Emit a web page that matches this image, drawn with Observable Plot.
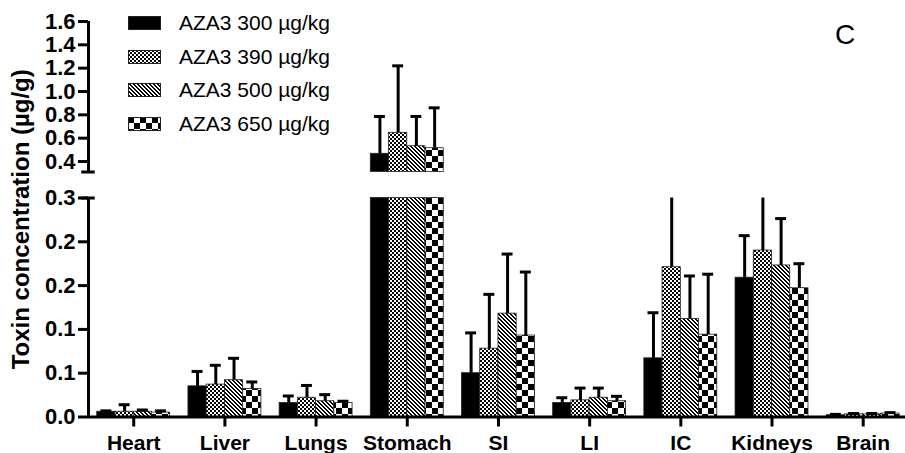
<!DOCTYPE html>
<html><head><meta charset="utf-8">
<script src="https://cdn.jsdelivr.net/npm/d3@7"></script>
<script src="https://cdn.jsdelivr.net/npm/@observablehq/plot@0.6"></script>
<style>
body{margin:0;background:#fff;}
#wrap{position:relative;width:905px;height:453px;font-family:"Liberation Sans",Arial,sans-serif;color:#000;}
#legend{position:absolute;left:128px;top:13px;}
.row{display:flex;align-items:center;height:20px;margin-bottom:13.5px;font-size:21px;white-space:nowrap;}
.row svg{margin-right:18px;display:block}
#panel{position:absolute;left:835px;top:21px;font-size:28px;line-height:1;}
</style></head>
<body>
<svg width="0" height="0" style="position:absolute"><defs>
<pattern id="p390" patternUnits="userSpaceOnUse" width="4" height="4"><rect width="4" height="4" fill="#fff"/><rect width="2" height="2" fill="#000"/><rect x="2" y="2" width="2" height="2" fill="#000"/></pattern>
<pattern id="p500" patternUnits="userSpaceOnUse" width="4" height="4"><rect width="4" height="4" fill="#fff"/><path d="M0,0h2v1h-2z M1,1h2v1h-2z M2,2h2v1h-2z M3,3h1v1h-1z M0,3h1v1h-1z" fill="#000"/></pattern>
<pattern id="p650" patternUnits="userSpaceOnUse" width="12" height="12"><rect width="12" height="12" fill="#fff"/><rect width="6" height="6" fill="#000"/><rect x="6" y="6" width="6" height="6" fill="#000"/></pattern>
</defs></svg>
<div id="wrap"><div id="chart"></div><div id="legend"></div><div id="panel">C</div></div>
<script>
const organs = ["Heart","Liver","Lungs","Stomach","SI","LI","IC","Kidneys","Brain"];
const series = ["AZA3 300 µg/kg","AZA3 390 µg/kg","AZA3 500 µg/kg","AZA3 650 µg/kg"];

const mean300 = [0.006, 0.035, 0.016, 0.466, 0.050, 0.016, 0.067, 0.159, 0.002];
const sd300   = [0.001, 0.017, 0.008, 0.320, 0.046, 0.006, 0.052, 0.048, 0.001];
const mean390 = [0.006, 0.037, 0.022, 0.646, 0.078, 0.019, 0.171, 0.190, 0.003];
const sd390   = [0.008, 0.022, 0.014, 0.574, 0.062, 0.014, 0.119, 0.090, 0.001];
const mean500 = [0.006, 0.042, 0.018, 0.531, 0.118, 0.022, 0.112, 0.173, 0.003];
const sd500   = [0.002, 0.025, 0.0075, 0.255, 0.068, 0.011, 0.049, 0.0535, 0.001];
const mean650 = [0.005, 0.032, 0.016, 0.514, 0.093, 0.018, 0.094, 0.147, 0.004];
const sd650   = [0.002, 0.008, 0.002, 0.346, 0.0725, 0.0056, 0.069, 0.028, 0.001];

const yTicks = [0, 0.05, 0.1, 0.15, 0.2, 0.25, 0.4, 0.6, 0.8, 1.0, 1.2, 1.4, 1.6];
const yTickLabels = ["0.0","0.1","0.1","0.2","0.2","0.3","0.4","0.6","0.8","1.0","1.2","1.4","1.6"];
const yLabel = "Toxin concentration (µg/g)";

// broken axis segments
const lowerTop = 0.25, upperBottom = 0.31, upperTop = 1.6;

const fills = ["#000", "url(#p390)", "url(#p500)", "url(#p650)"];
const means = [mean300, mean390, mean500, mean650];
const sds = [sd300, sd390, sd500, sd650];
const slots = series.length + 1;

const rows = [];
organs.forEach((o, i) => series.forEach((s, k) => {
  const x1 = i * slots + k;
  rows.push({organ: o, series: s, k, x1, x2: x1 + 1, xc: x1 + 0.5, mean: means[k][i], top: means[k][i] + sds[k][i]});
}));
const lower = rows.map(d => ({...d, y1: 0, y2: Math.min(d.mean, lowerTop)}));
const upper = rows.filter(d => d.mean > upperBottom).map(d => ({...d, y1: upperBottom, y2: d.mean}));
const errSegs = [];
rows.forEach(d => {
  if (d.mean < lowerTop) errSegs.push({...d, y1: d.mean, y2: Math.min(d.top, lowerTop)});
  if (d.top > upperBottom) errSegs.push({...d, y1: Math.max(d.mean, upperBottom), y2: d.top});
});
const caps = rows.filter(d => d.top <= lowerTop || d.top >= upperBottom);
const xMin = -0.48, xMax = 44.32;
const capHalf = 0.3;

const marks = [];
series.forEach((s, k) => {
  marks.push(Plot.rect(lower.filter(d => d.k === k), {x1: "x1", x2: "x2", y1: "y1", y2: "y2", fill: fills[k], stroke: "#222", strokeWidth: 0.8}));
  marks.push(Plot.rect(upper.filter(d => d.k === k), {x1: "x1", x2: "x2", y1: "y1", y2: "y2", fill: fills[k], stroke: "#222", strokeWidth: 0.8}));
});
marks.push(
  Plot.ruleX(errSegs, {x: "xc", y1: "y1", y2: "y2", strokeWidth: 3}),
  Plot.ruleY(caps, {y: "top", x1: d => d.xc - capHalf, x2: d => d.xc + capHalf, strokeWidth: 3}),
  Plot.ruleY([0], {strokeWidth: 3}),
  Plot.ruleX([{y1: 0, y2: lowerTop}, {y1: upperBottom, y2: upperTop}], {x: xMin, y1: "y1", y2: "y2", strokeWidth: 3}),
  Plot.ruleY([lowerTop, upperBottom], {x1: xMin - 0.37, x2: xMin + 0.37, strokeWidth: 3}),
  Plot.axisY(yTicks, {tickSize: 10, strokeWidth: 3, tickPadding: 3, tickFormat: d => yTickLabels[yTicks.indexOf(d)], fontSize: 22, fontWeight: "bold", label: null}),
  Plot.axisY({ticks: [], label: yLabel, labelAnchor: "center", labelArrow: "none", labelOffset: 77, fontSize: 24, fontWeight: "bold"}),
  Plot.axisX(organs.map((o, i) => i * slots + (series.length / 2)), {tickSize: 10, strokeWidth: 3, tickPadding: 8, tickFormat: d => organs[Math.round((d - series.length / 2) / slots)], fontSize: 21, fontWeight: "bold", label: null})
);

const chart = Plot.plot({
  width: 905, height: 453,
  marginLeft: 88, marginRight: 0, marginTop: 21, marginBottom: 36.5,
  style: {fontFamily: "Liberation Sans, Arial, sans-serif", background: "white", color: "black"},
  x: {type: "linear", domain: [xMin, xMax]},
  y: {type: "linear", domain: [0, lowerTop, upperBottom, upperTop], range: [416.5, 197.5, 171.5, 21]},
  marks
});
document.getElementById("chart").appendChild(chart);

const legend = document.getElementById("legend");
series.forEach((s, k) => {
  const row = document.createElement("div");
  row.className = "row";
  row.innerHTML = `<svg width="33" height="14"><rect x="0.5" y="0.5" width="32" height="13" fill="${fills[k]}" stroke="#222" stroke-width="1"/></svg><span>${s}</span>`;
  legend.appendChild(row);
});
</script>
</body></html>
